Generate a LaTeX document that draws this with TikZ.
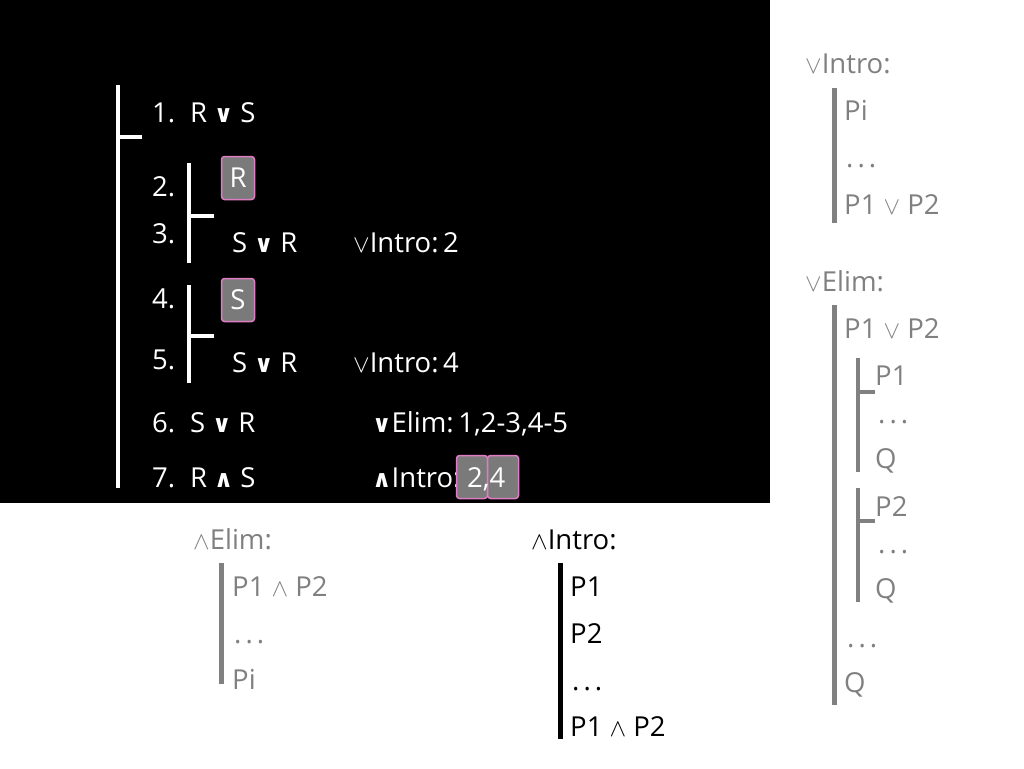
\documentclass[tikz,border=0pt]{standalone}
\usepackage{fontspec}
\setmainfont{Open Sans}
\newfontfamily\symfont{DejaVu Sans}
\definecolor{greyc}{HTML}{808080}
\definecolor{boxgrey}{HTML}{7A7A7A}
\definecolor{pinkc}{HTML}{E07CC4}
\newcommand\bsym[1]{{\symfont\bfseries\fontsize{24}{24}\selectfont #1}}
\newcommand\bor{\hspace{0.08em}\bsym{∨}\hspace{0.08em}}
\newcommand\band{\hspace{0.08em}\bsym{∧}\hspace{0.08em}}
\newcommand\tor{$\vee$}
\newcommand\tand{$\wedge$}
\newcommand\dotsx{.\kern4pt.\kern4pt.}
\begin{document}
\begin{tikzpicture}[x=1pt,y=-1pt,
  txt/.style={anchor=base west, inner sep=0pt, font=\fontsize{27.5}{27.5}\selectfont},
  wtxt/.style={txt, text=white},
  gtxt/.style={txt, text=greyc},
  ktxt/.style={txt, text=black},
  wbar/.style={draw=white, line width=4pt},
  gbar/.style={draw=greyc, line width=5pt},
  gtick/.style={draw=greyc, line width=4pt},
  kbar/.style={draw=black, line width=5pt},
  hlbox/.style={draw=pinkc, fill=boxgrey, rounded corners=3pt, line width=1.5pt, inner sep=0pt, minimum height=43pt},
  hltxt/.style={inner sep=0pt, text=white, font=\fontsize{27.5}{27.5}\selectfont}]
\useasboundingbox (0,0) rectangle (1024,768);
\fill[black] (0,0) rectangle (770,503);

% ---- main proof ----
\coordinate (o1) at (118,85);
\coordinate (o2) at (118,488);
\coordinate (ot) at (142,137);
\draw[wbar] (o1) -- (o2);
\draw[wbar] (ot) -- (ot -| o1);

\node[wtxt] (n1) at (152,122) {1.};
\node[wtxt] (f1) at (190,122) {R\,\bor\,S};

\coordinate (s1a) at (189,163);
\coordinate (s1b) at (189,263);
\coordinate (s1t) at (214,216);
\draw[wbar] (s1a) -- (s1b);
\draw[wbar] (s1t) -- (s1t -| s1a);

\node[wtxt] (n2) at (152,196) {2.};
\node[hlbox, minimum width=33pt] (bR) at (238,178) {};
\node[hltxt] (tR) at (bR) {R};

\node[wtxt] (n3) at (152,243) {3.};
\node[wtxt] (f3) at (232,252) {S\,\bor\,R};
\node[wtxt] (r3) at (353,252) {\tor Intro:\,2};

\coordinate (s2a) at (189,285);
\coordinate (s2b) at (189,383);
\coordinate (s2t) at (214,336);
\draw[wbar] (s2a) -- (s2b);
\draw[wbar] (s2t) -- (s2t -| s2a);

\node[wtxt] (n4) at (152,308) {4.};
\node[hlbox, minimum width=33pt] (bS) at (238,300) {};
\node[hltxt] (tS) at (bS) {S};

\node[wtxt] (n5) at (152,369) {5.};
\node[wtxt] (f5) at (232,372) {S\,\bor\,R};
\node[wtxt] (r5) at (353,372) {\tor Intro:\,4};

\node[wtxt] (n6) at (152,432) {6.};
\node[wtxt] (f6) at (190,432) {S\,\bor\,R};
\node[wtxt] (r6) at (372,432) {\bsym{∨}Elim:\,1,2-3,4-5};

\node[wtxt] (n7) at (152,487) {7.};
\node[wtxt] (f7) at (190,487) {R\,\band\,S};
\node[wtxt] (r7) at (372,487) {\bsym{∧}Intro:};
\node[hlbox, minimum width=31pt] (b2) at (472,477) {};
\node[hlbox, minimum width=31pt] (b4) at (503,477) {};
\node[hltxt, anchor=base west] (t24) at (467,487) {2,4};

% ---- or-intro rule ----
\node[gtxt] (oi) at (805,73) {\tor Intro:};
\coordinate (oia) at (834,88);
\coordinate (oib) at (834,223);
\draw[gbar] (oia) -- (oib);
\node[gtxt] (oi1) at (844,120) {Pi};
\node[gtxt] (oi2) at (846,167) {\dotsx};
\node[gtxt] (oi3) at (844,214) {P1 \tor\ P2};

% ---- or-elim rule ----
\node[gtxt] (oe) at (805,291) {\tor Elim:};
\coordinate (oea) at (834,305);
\coordinate (oeb) at (834,705);
\draw[gbar] (oea) -- (oeb);
\node[gtxt] (oe1) at (844,338) {P1 \tor\ P2};
\coordinate (p1a) at (858,358);
\coordinate (p1b) at (858,472);
\coordinate (p1t) at (875,392);
\draw[gtick] (p1a) -- (p1b);
\draw[gtick] (p1t) -- (p1t -| p1a);
\node[gtxt] (oe2) at (875,385) {P1};
\node[gtxt] (oe3) at (878,423) {\dotsx};
\node[gtxt] (oe4) at (875,468) {Q};
\coordinate (p2a) at (858,488);
\coordinate (p2b) at (858,602);
\coordinate (p2t) at (875,521);
\draw[gtick] (p2a) -- (p2b);
\draw[gtick] (p2t) -- (p2t -| p2a);
\node[gtxt] (oe5) at (875,516) {P2};
\node[gtxt] (oe6) at (878,553) {\dotsx};
\node[gtxt] (oe7) at (875,598) {Q};
\node[gtxt] (oe8) at (847,647) {\dotsx};
\node[gtxt] (oe9) at (844,692) {Q};

% ---- and-elim rule ----
\node[gtxt] (ae) at (193,549) {\tand Elim:};
\coordinate (aea) at (221,563);
\coordinate (aeb) at (221,684);
\draw[gbar] (aea) -- (aeb);
\node[gtxt] (ae1) at (232,596) {P1 \tand\ P2};
\node[gtxt] (ae2) at (234,643) {\dotsx};
\node[gtxt] (ae3) at (232,689) {Pi};

% ---- and-intro rule ----
\node[ktxt] (ai) at (531,549) {\tand Intro:};
\coordinate (aia) at (560,563);
\coordinate (aib) at (560,739);
\draw[kbar] (aia) -- (aib);
\node[ktxt] (ai1) at (570,596) {P1};
\node[ktxt] (ai2) at (570,643) {P2};
\node[ktxt] (ai3) at (572,690) {\dotsx};
\node[ktxt] (ai4) at (570,736) {P1 \tand\ P2};
\end{tikzpicture}
\end{document}
